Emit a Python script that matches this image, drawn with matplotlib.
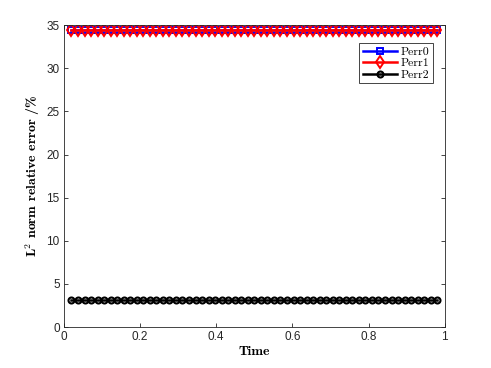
import numpy as np
import matplotlib
matplotlib.use('Agg')
import matplotlib.pyplot as plt

# sample times and error values
time = np.linspace(0.02, 0.98, 57)
perr0 = [34.4] * len(time)
perr1 = [34.4] * len(time)
perr2 = [3.1] * len(time)
labels = ['Perr0', 'Perr1', 'Perr2']

plt.rcParams['mathtext.fontset'] = 'cm'

fig = plt.figure(figsize=(4.91, 3.68), dpi=100)
ax = fig.add_axes([0.13, 0.111, 0.776, 0.821])

ax.plot(time, perr0, '-s', color='blue', lw=1.8, ms=4, mfc='none', mew=1.4, label=labels[0])
ax.plot(time, perr1, '-d', color='red', lw=1.8, ms=6.5, mfc='none', mew=1.4, label=labels[1])
ax.plot(time, perr2, '-o', color='black', lw=1.8, ms=4.3, mfc='none', mew=1.5, label=labels[2])

ax.set_xlim(0, 1)
ax.set_ylim(0, 35)
ax.set_xticks(np.arange(0, 1.01, 0.2))
ax.set_yticks(np.arange(0, 36, 5))
ax.set_xticklabels(['0', '0.2', '0.4', '0.6', '0.8', '1'])
ax.tick_params(direction='in', length=3, width=0.6, top=True, right=True,
               labelsize=8.5, colors='#262626', pad=3)
for tl in ax.get_xticklabels() + ax.get_yticklabels():
    tl.set_family('Liberation Sans')
for s in ax.spines.values():
    s.set_linewidth(0.6)
    s.set_color('#262626')

ax.set_xlabel('Time', family='cmb10', fontsize=10, labelpad=2)
ax.set_ylabel(r'$\mathbf{L}^2$ norm relative error /%', family='cmb10', fontsize=10, labelpad=3)

leg = ax.legend(loc='upper right', bbox_to_anchor=(0.968, 0.94), prop={'family': 'cmr10', 'size': 8.5},
                fancybox=False, edgecolor='#262626', framealpha=1, handlelength=2.9,
                borderpad=0.3, labelspacing=0.1, handletextpad=0.3, borderaxespad=0)
leg.get_frame().set_linewidth(0.6)

fig.savefig('out.png', dpi=100)
